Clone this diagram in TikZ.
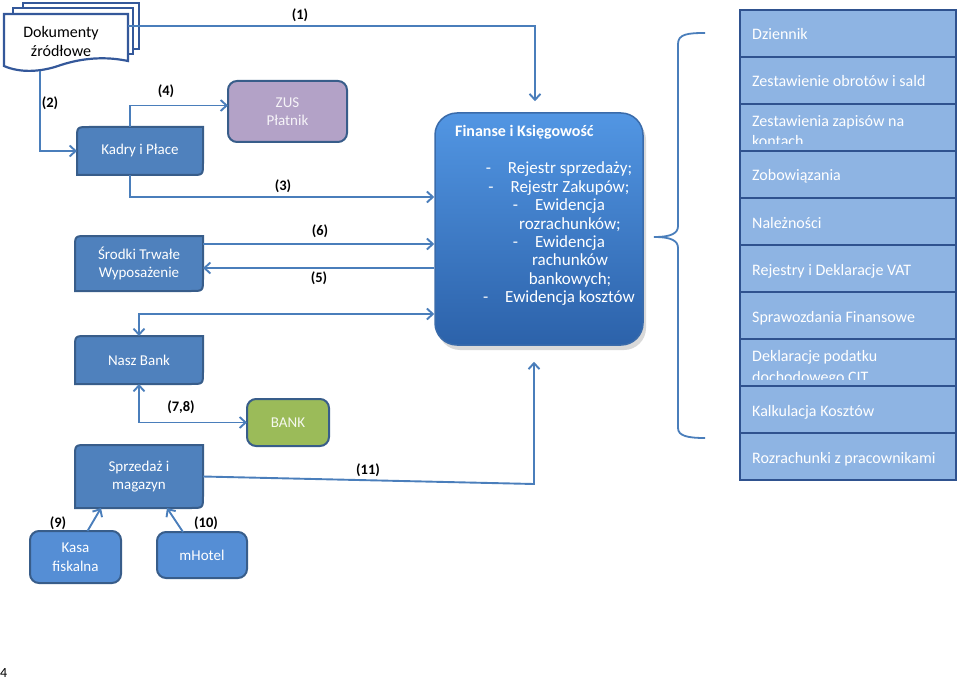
\documentclass[tikz,border=0pt]{standalone}
\usepackage{fontspec}
\setmainfont{Carlito}
\usepackage{tikz}
\usetikzlibrary{arrows.meta,backgrounds,shadows}
\definecolor{modfill}{HTML}{4F81BD}
\definecolor{modedge}{HTML}{385D8A}
\definecolor{hotfill}{HTML}{558ED5}
\definecolor{zusfill}{HTML}{B3A2C7}
\definecolor{bankfill}{HTML}{9BBB59}
\definecolor{listfill}{HTML}{8EB4E3}
\definecolor{listedge}{HTML}{2F528F}
\definecolor{linkcol}{HTML}{4A7EBB}
\definecolor{fintop}{HTML}{5296E3}
\definecolor{finbot}{HTML}{2C62AA}
\definecolor{finedge}{HTML}{3A6BAA}
\definecolor{docedge}{HTML}{34589A}
\newcommand{\pfont}[2]{\fontsize{#1}{#2}\selectfont}

\begin{document}
\begin{tikzpicture}[x=1pt, y=-1pt,
  modul/.style={inner sep=0pt, outer sep=0pt, align=center, text=white, font=\pfont{15}{18.5}},
  modframe/.style={fill=modfill, draw=modedge, line width=2pt},
  roundbox/.style={draw=modedge, line width=2pt, rounded corners=9pt, inner sep=0pt,
                   outer sep=0pt, align=center, text=white, font=\pfont{15}{18.5}},
  listbox/.style={draw=listedge, fill=listfill, line width=2.4pt, minimum width=216pt,
                  minimum height=47pt, inner sep=0pt, outer sep=0pt},
  listtxt/.style={anchor=base west, inner sep=0pt, align=left, text=white, font=\pfont{16}{20.3}},
  docpage/.style={draw=docedge, fill=white, line width=2.2pt},
  lbl/.style={font=\pfont{14.5}{16}\bfseries},
  link/.style={draw=linkcol, line width=1.9pt},
  arr/.style={link, -{Straight Barb[length=6pt, width=11pt]}},
  arrboth/.style={link, {Straight Barb[length=6pt, width=11pt]}-{Straight Barb[length=6pt, width=11pt]}}
]
  \useasboundingbox (0,0) rectangle (960,679);

  % source documents (stack)
  \draw[docpage] (23,3) rectangle (139,49);
  \draw[docpage] (13,8) rectangle (133,54);
  \draw[docpage] (4,14) -- (128,14) -- (128,61) .. controls (100,55) and (75,60) .. (58,66)
    .. controls (40,72) and (20,73) .. (4,66) -- cycle;
  \node[font=\pfont{16}{19.5}, align=center, inner sep=0pt] (docs) at (61,41.5) {Dokumenty\\źródłowe};
  \coordinate (docsout) at (128,26);
  \coordinate (docsdown) at (40,71);

  % modules (left)
  \node[modul, minimum width=126pt, minimum height=48pt] (kadry) at (140,151) {Kadry i Płace};
  \node[modul, minimum width=128pt, minimum height=55pt] (srodki) at (139,263.5) {Środki Trwałe\\Wyposażenie};
  \node[modul, minimum width=128pt, minimum height=48pt] (naszbank) at (139,360) {Nasz Bank};
  \node[modul, minimum width=128pt, minimum height=63pt] (sprzedaz) at (139,476.5) {Sprzedaż i\\magazyn};
  \begin{scope}[on background layer]
    \foreach \m in {kadry,srodki,naszbank,sprzedaz}
      \draw[modframe] ([yshift=-12pt]\m.north west) .. controls (\m.north west) .. ([xshift=12pt]\m.north west)
        -- (\m.north east) -- ([yshift=12pt]\m.south east) .. controls (\m.south east) .. ([xshift=-12pt]\m.south east)
        -- (\m.south west) -- cycle;
  \end{scope}

  \node[roundbox, fill=zusfill, text=white!88!zusfill, minimum width=119pt, minimum height=61pt] (zus) at (287.5,111.5) {ZUS\\Płatnik};
  \node[roundbox, fill=bankfill, text=white!90!bankfill, minimum width=82pt, minimum height=47pt] (bank) at (288,422.5) {BANK};
  \node[roundbox, fill=hotfill, minimum width=91pt, minimum height=52pt] (kasa) at (75.5,557) {Kasa\\fiskalna};
  \node[roundbox, fill=hotfill, minimum width=90pt, minimum height=46pt] (mhotel) at (202,555) {mHotel};

  % Finanse i Ksiegowosc
  \node[draw=finedge, line width=1.5pt, rounded corners=22pt, top color=fintop, bottom color=finbot,
        minimum width=208pt, minimum height=232pt,
        drop shadow={shadow xshift=3pt, shadow yshift=-5pt, opacity=0.3}] (fin) at (539,229) {};
  \node[anchor=base west, inner sep=0pt, text=white, font=\pfont{16}{18}\bfseries] (fintitle) at (455,136.5)
    {Finanse i Księgowość};
  \node[anchor=base, inner sep=0pt, align=center, text=white, font=\pfont{17}{18.36}] (finlist) at (570,302.5)
    {\llap{-\hspace{17pt}}Rejestr sprzedaży;\\
     \llap{-\hspace{17pt}}Rejestr Zakupów;\\
     \llap{-\hspace{17pt}}Ewidencja\\
     rozrachunków;\\
     \llap{-\hspace{17pt}}Ewidencja\\
     rachunków\\
     bankowych;\\
     \llap{-\hspace{17pt}}Ewidencja kosztów};

  % reports (right column)
  \foreach \i/\txt/\off in {1/Dziennik/30, 2/Zestawienie obrotów i sald/30,
      3/{Zestawienia zapisów na\\kontach}/43, 4/Zobowiązania/30, 5/Należności/30,
      6/Rejestry i Deklaracje VAT/30, 7/Sprawozdania Finansowe/30,
      8/{Deklaracje podatku\\dochodowego CIT}/43, 9/Kalkulacja Kosztów/30,
      10/Rozrachunki z pracownikami/30} {
    \node[listbox] (row\i) at (848,{33.5+47*(\i-1)}) {};
    \begin{scope}
      \clip (row\i.north west) rectangle ([yshift=7pt]row\i.south east);
      \node[listtxt] (rowtxt\i) at (752,{10+47*(\i-1)+\off}) {\txt};
    \end{scope}
  }
  \draw[linkcol, line width=1.8pt] (705,33) .. controls (688,33) and (678,34) .. (678,44) -- (678,226)
    .. controls (678,233) and (672,237) .. (654,237) .. controls (672,237) and (678,241) .. (678,248)
    -- (678,428) .. controls (678,436) and (688,438) .. (705,438);

  % connectors
  \draw[arr, shorten >=11pt] (docsout) -| ([xshift=-4pt]fin.north);
  \draw[arr] (docsdown) |- (kadry.west);
  \draw[arr] ([xshift=-10pt]kadry.north) |- ([yshift=6pt]zus.west);
  \draw[arr] ([xshift=-10pt]kadry.south) |- ([yshift=32pt]fin.west);
  \draw[arr] ([yshift=19.5pt]srodki.east) -- ([yshift=-15pt]fin.west);
  \draw[arr] ([yshift=-39pt]fin.west) -- ([yshift=-4.5pt]srodki.east);
  \draw[arrboth] (naszbank.north) |- ([yshift=-85pt]fin.west);
  \draw[arrboth] (naszbank.south) |- (bank.west);
  \coordinate (k11) at (534,484);
  \draw[arr, shorten >=16pt] (sprzedaz.east) -- (k11) -- ([xshift=-5pt]fin.south);
  \draw[arr] ([xshift=12pt]kasa.north) -- ([xshift=-38pt]sprzedaz.south);
  \draw[arr] ([xshift=-19pt]mhotel.north) -- ([xshift=28pt]sprzedaz.south);

  % labels
  \node[lbl] (l1) at (300,15) {(1)};
  \node[lbl] (l2) at (50,103) {(2)};
  \node[lbl] (l3) at (283,186) {(3)};
  \node[lbl] (l4) at (166,91) {(4)};
  \node[lbl] (l5) at (319,278) {(5)};
  \node[lbl] (l6) at (320,231) {(6)};
  \node[lbl] (l78) at (181,407) {(7,8)};
  \node[lbl] (l9) at (58,523) {(9)};
  \node[lbl] (l10) at (206,523) {(10)};
  \node[lbl] (l11) at (368,470) {(11)};

  \node[anchor=base west, inner sep=0pt, font=\pfont{14}{16}] (pagenr) at (0,677) {4};
\end{tikzpicture}
\end{document}
